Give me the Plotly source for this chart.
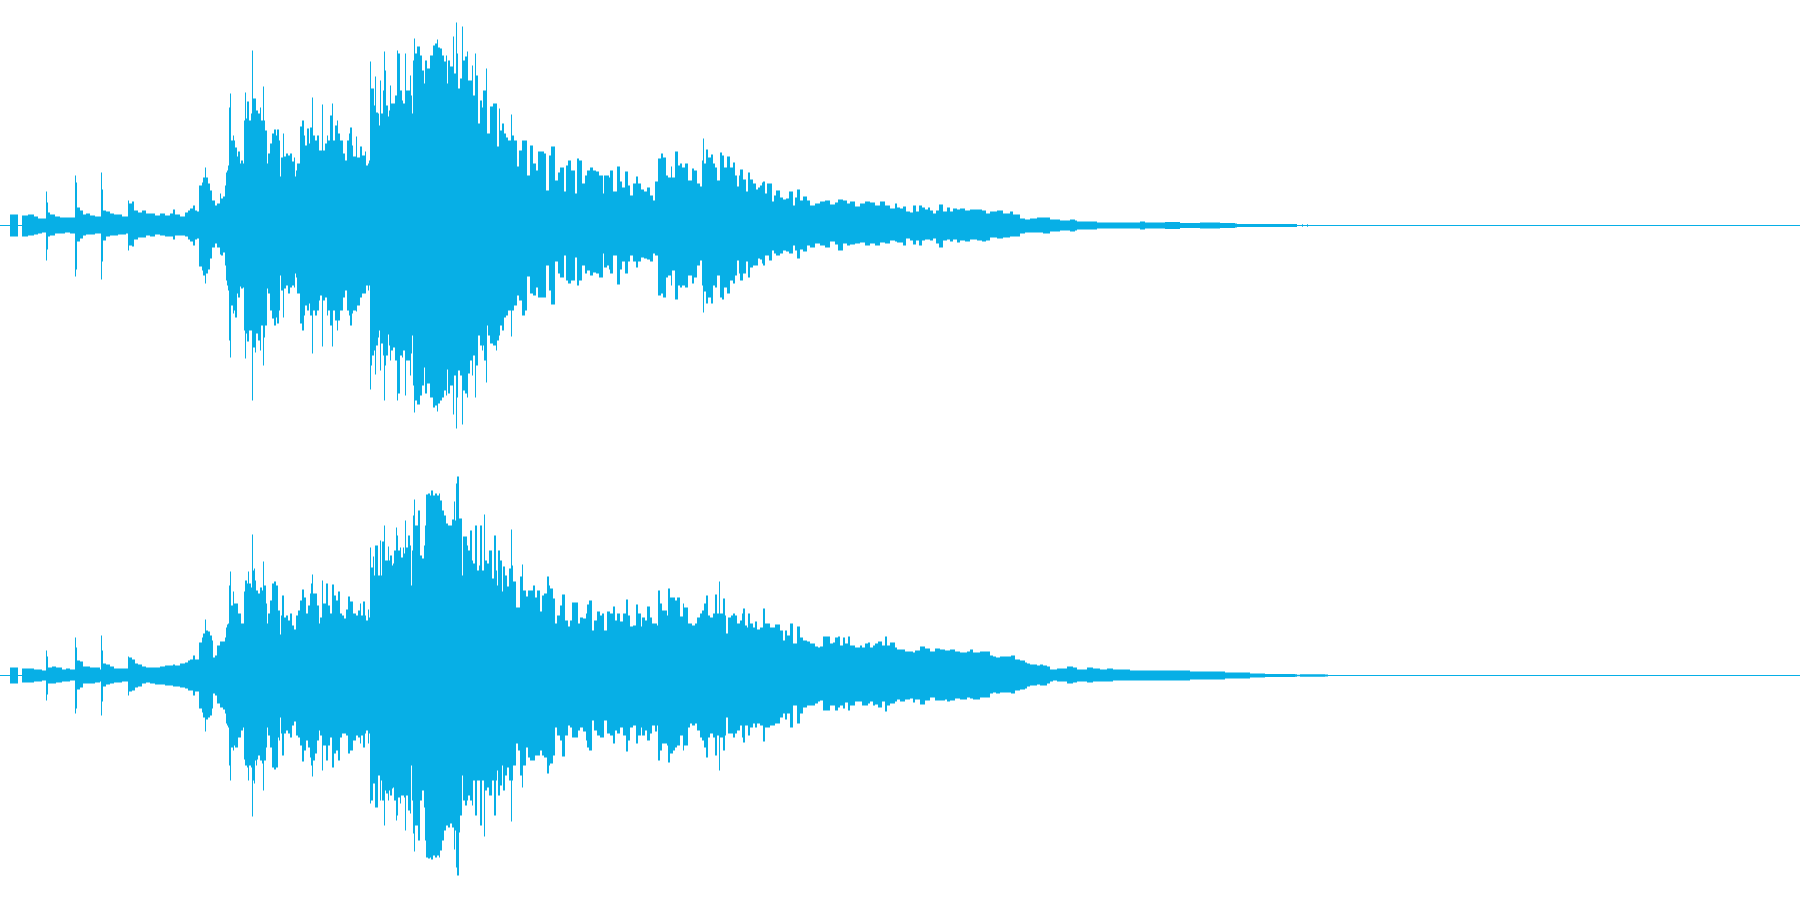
import numpy as np
import plotly.graph_objects as go
from plotly.subplots import make_subplots

COLOR = "#07AFE6"

ch1_t = [
0,10,18,22,28,34,38,42,46,47, 48,50,55,60,65,70,75,76,77,80, 83,86,90,95,100,101,102,103,106,110,
114,118,122,126,128,129,132,134,138,142, 146,150,155,160,165,170,173,175,180,185,
188,190,193,195,197,199,202,203,205,206, 208,210,212,215,217,220,221,223,225,226,
227,228,229,230,231,233,234,235,237,238, 240,241,243,244,245,246,247,249,251,252,
253,255,256,258,260,261,263,264,265,267, 268,270,272,274,276,277,279,280,281,283,
284,286,288,290,292,294,295,296,297,300, 302,304,305,307,309,310,312,313,315,317,
319,320,322,323,325,327,328,330,332,333, 335,337,338,340,343,345,347,349,350,352,
353,356,357,360,362,365,366,368,369,370, 371,372,374,375,376,378,379,380,381,383,
384,385,386,388,389,390,391,393,395,397, 398,400,402,403,405,406,408,410,411,412,
413,414,415,417,420,422,424,425,427,430, 433,435,437,438,440,442,444,446,447,448,
450,453,454,456,457,458,460,462,463,465, 467,468,470,472,473,475,476,478,480,482,
483,484,486,487,488,490,493,496,497,499, 500,502,504,506,508,511,512,514,517,519,
522,525,527,530,533,536,538,544,546,549, 551,555,558,560,564,566,568,571,575,577,
579,582,585,587,590,593,596,599,603,604, 607,609,610,613,617,620,622,625,628,630,
633,636,638,641,644,647,650,653,655,658, 661,663,666,668,671,672,675,678,680,682,
685,688,692,694,697,700,702,703,704,706, 708,711,713,715,717,720,722,724,727,730,
733,735,737,739,740,743,746,748,750,753, 756,758,760,762,763,765,767,769,772,774,
776,780,783,786,789,793,795,797,800,803, 807,810,815,820,825,830,835,838,843,847,
850,855,860,865,870,875,880,885,890,895, 897,900,903,906,910,913,916,919,922,925,
928,930,933,936,939,943,947,950,953,957, 960,965,970,977,982,986,990,997,1003,1010,
1013,1020,1025,1030,1037,1043,1050,1060,1070,1075, 1077,1087,1097,1110,1125,1140,1145,1165,1180,1200,
1220,1235,1237,1240,1250,1270,1297,1302,1303,1307, 1308,1800]
ch1_up = [
0,11,0,10,11,9,7,7,34,23, 13,11,9,8,8,8,50,43,18,15, 11,12,10,9,9,53,36,15,14,12,
11,11,9,9,25,22,24,15,13,15, 12,12,10,12,10,12,16,11,9,13,
15,17,20,15,14,40,43,48,58,48, 42,35,25,20,22,32,27,29,40,53,
55,60,118,132,85,90,85,78,69,74, 62,65,62,105,133,107,124,105,112,175,
127,127,115,112,118,105,139,105,95,62, 72,82,92,96,90,96,85,49,68,92,
69,72,70,72,64,68,49,55,62,99, 105,90,80,97,82,98,128,90,85,90,
75,75,121,75,82,90,85,110,122,85, 100,105,92,85,72,65,85,92,98,80,
69,89,68,79,70,74,60,62,65,164, 137,137,120,149,113,112,100,145,112,135,
174,155,120,109,115,140,122,122,130,175, 172,135,125,122,172,135,135,150,130,112,
165,187,172,179,170,155,142,165,157,170, 180,182,186,178,177,170,164,170,142,165,
159,189,152,203,172,137,147,199,165,169, 174,145,145,160,130,172,150,102,125,118,
135,135,157,92,92,119,122,122,79,117, 95,102,92,88,85,111,90,85,59,75,
85,85,50,80,62,55,74,72,35,70, 79,45,53,58,34,60,65,55,32,67,
65,42,50,55,58,55,54,50,32,50, 50,48,55,34,59,44,38,54,40,30,
42,49,42,36,34,38,30,25,44,67, 72,68,50,48,59,48,74,60,62,58,
62,45,57,55,42,39,65,87,62,76, 68,71,62,58,45,73,70,58,69,58,
63,50,39,50,56,46,34,53,46,42, 36,38,40,43,44,32,42,42,24,30,
35,28,26,27,34,20,28,36,25,29, 25,20,22,24,25,21,23,26,25,22,
24,19,22,24,23,20,24,20,17,22, 18,17,19,14,13,20,14,20,18,16,
18,15,12,15,21,14,18,14,17,16, 17,15,16,16,15,12,14,15,12,14,
11,7,6,7,8,8,6,5,6,5, 4,4,3,3,3,4,3,3.5,2.5,3,
2.5,2,1.6,1.6,1.6,1.6,0,1.3,0,1.3, 0,0]
ch1_down = [
0,11,0,11,10,9,8,7,35,24, 11,10,8,8,7,8,51,44,16,13, 10,9,9,8,8,54,36,15,11,10,
10,9,9,8,25,20,21,14,12,12, 10,11,9,10,11,11,14,10,10,11,
14,16,20,14,13,41,45,50,58,48, 44,33,22,18,22,29,30,27,40,55,
60,65,115,132,80,88,85,92,68,72, 61,63,62,105,133,108,116,105,105,175,
122,127,108,115,125,100,140,112,100,63, 68,85,93,100,92,98,85,50,65,92,
63,60,68,62,60,62,48,52,68,98, 105,90,80,85,78,90,128,85,90,85,
75,70,121,75,72,90,85,100,121,85, 95,105,95,85,72,65,85,90,100,88,
85,86,80,72,68,68,60,65,60,164, 140,130,125,149,120,112,105,145,118,130,
175,140,130,109,120,135,125,122,135,175, 168,130,132,125,170,135,135,150,128,110,
160,187,175,179,170,160,142,168,158,172, 182,180,186,178,175,172,165,170,144,168,
160,189,150,203,172,145,150,199,165,168, 172,148,135,150,130,172,140,110,120,125,
120,135,157,100,110,118,120,125,115,110, 100,105,92,90,85,111,85,80,70,75,
90,85,51,68,70,62,72,72,40,65, 79,36,48,52,30,55,58,55,32,60,
55,40,48,45,50,47,48,52,28,42, 40,44,48,30,59,44,36,48,36,30,
36,42,36,32,33,34,36,28,30,70, 68,72,52,50,60,45,74,60,62,60,
62,50,58,52,40,35,60,87,66,78, 72,78,60,62,50,72,74,62,68,55,
58,50,35,48,55,48,36,52,42,40, 40,33,34,38,40,30,30,35,25,28,
30,28,25,26,28,20,25,33,24,26, 20,22,18,20,22,16,19,25,18,20,
19,18,17,20,18,20,17,18,15,16, 17,17,20,13,15,19,15,20,15,14,
14,15,13,18,22,15,14,16,14,17, 15,16,14,15,16,15,12,13,12,11,
11,8,7,7,7,8,6,5,6,5, 4,4,3,3,3,4,3,3.5,2.5,3,
2.5,2,1.6,1.6,1.6,1.6,0,1.3,0,1.3, 0,0]

ch2_t = [
0,10,18,22,28,34,38,42,46,47, 48,52,56,62,66,70,75,76,77,80, 83,86,90,95,100,101,102,103,106,110,
114,118,122,126,128,129,132,135,138,142, 146,150,155,160,165,170,173,175,180,185,
188,190,193,195,197,199,202,203,205,206, 208,210,212,213,215,217,220,223,225,226,
227,228,229,230,231,233,234,235,237,238, 240,241,243,244,245,247,248,249,251,252,
253,254,255,256,257,258,260,262,263,264, 265,266,267,268,270,272,274,276,278,279,
280,281,282,284,286,288,290,292,294,296, 298,300,302,304,306,308,310,311,312,313,
315,317,319,320,322,323,326,328,330,332, 334,336,338,340,342,344,346,348,350,353,
356,358,360,361,363,365,366,368,369,370, 371,373,374,375,378,380,381,382,384,385,
386,388,389,390,392,393,394,396,397,398, 400,401,403,404,405,406,408,410,411,412,
413,414,415,418,420,422,424,425,426,428, 430,431,433,435,437,439,440,442,444,446,
447,448,450,452,454,455,456,457,459,460, 462,463,465,467,468,470,472,473,475,477,
479,480,482,484,485,487,489,492,494,496, 497,498,500,502,503,505,507,509,511,512,
513,516,518,520,522,523,526,528,530,533, 535,537,540,542,544,547,549,550,553,555,
557,560,562,565,568,570,572,575,578,580, 583,586,587,589,592,594,597,600,602,604,
607,610,613,615,617,620,623,626,628,630, 633,636,638,641,642,645,647,650,652,655,
657,658,660,662,667,668,670,673,675,677, 680,683,684,688,690,692,695,697,700,702,
704,706,708,710,713,715,717,719,720,723, 725,726,728,731,733,735,737,740,742,743,
745,747,748,750,753,755,757,760,763,765, 770,775,780,783,785,787,790,793,797,800,
803,807,810,815,818,820,823,830,833,835, 838,840,843,845,848,850,855,860,862,865,
868,870,873,875,878,882,885,887,890,895, 897,900,905,910,913,915,920,925,930,935,
940,945,947,950,955,960,967,970,973,980, 987,990,993,996,1000,1007,1011,1015,1020,1025,
1027,1030,1033,1037,1040,1043,1047,1050,1053,1057, 1060,1067,1073,1077,1080,1087,1093,1100,1107,1113,
1120,1130,1140,1150,1160,1170,1180,1190,1200,1215, 1225,1240,1250,1265,1285,1295,1297,1300,1325,1328, 1800]
ch2_up = [
0,8,0,7,7,6,6,5,25,19, 8,9,8,6,7,6,38,28,15,14, 9,9,8,8,6,40,25,12,11,9,
7,7,7,7,19,18,16,12,11,9, 8,8,8,9,10,10,11,10,12,13,
15,16,20,16,16,33,38,42,56,45, 44,40,35,18,20,30,34,34,38,48,
51,52,90,104,70,84,72,72,72,62, 62,52,52,84,95,92,104,92,88,141,
105,107,95,85,85,82,88,85,114,90, 90,72,52,62,75,92,94,90,65,65,
41,60,80,58,60,55,62,50,46,60, 65,75,86,78,62,70,82,92,101,82,
82,70,52,58,95,72,92,70,62,91, 80,75,84,62,60,57,66,79,74,62,
60,65,72,60,74,60,55,66,58,128, 108,119,100,130,100,135,100,134,150,115,
115,129,115,120,110,112,125,148,140,125, 128,118,128,122,155,128,140,130,90,125,
160,176,150,165,120,117,130,150,181,182, 180,185,180,182,180,182,175,165,160,152,
152,150,150,156,174,155,192,199,157,157, 100,139,139,130,125,145,115,112,150,105,
110,150,105,161,115,112,125,97,140,105, 90,125,115,84,109,100,89,107,146,110,
94,68,68,99,111,85,79,85,85,90, 78,85,64,80,82,99,90,87,77,52,
60,70,81,55,49,55,73,73,52,58, 57,62,71,75,45,55,64,60,62,45,
64,62,69,55,62,54,62,76,60,49, 50,71,62,49,58,55,69,58,52,52,
50,85,72,65,60,87,78,78,75,78, 59,72,68,52,52,50,52,58,62,65,
72,80,60,58,62,81,62,94,62,77, 60,42,58,60,62,60,52,55,62,67,
50,48,62,52,48,54,46,48,67,52, 48,51,45,35,45,40,52,32,49,38,
35,34,32,29,28,29,39,32,33,38, 39,30,38,32,39,30,28,30,28,32,
33,28,30,32,34,30,39,30,33,28, 26,26,24,24,23,25,29,27,24,27,
26,25,25,26,24,23,24,26,23,24, 24,20,19,18,19,19,20,16,15,13,
12,11,11,10,11,10,9,6,6,7, 7,9,8,6,6,8,7,6,7,6,
6,5,5,5,5,5,5,4,4,4, 3,3,2,1.4,1.4,1.2,0.8,1.2,1,0, 0]
ch2_down = [
0,8,0,7,7,6,6,5,25,19, 8,8,7,6,6,5,38,33,14,12, 8,8,8,7,6,40,26,11,9,8,
7,7,6,6,20,16,15,12,11,8, 7,8,9,9,10,10,11,11,12,13,
15,15,20,16,16,33,37,42,56,44, 42,40,33,18,20,28,32,34,38,48,
50,52,90,105,72,75,70,72,72,62, 62,55,52,84,90,92,105,90,92,141,
105,108,85,90,84,80,85,88,115,85, 85,72,52,60,72,92,94,92,62,65,
42,58,80,58,55,58,62,50,46,60, 62,70,86,75,65,72,82,90,101,85,
78,65,55,60,95,70,85,70,62,92, 78,75,85,62,58,58,60,78,75,65,
60,62,68,60,72,58,55,68,58,128, 125,108,108,132,100,125,105,125,150,115,
118,125,115,120,113,112,125,145,140,122, 128,120,120,122,155,120,135,138,90,125,
158,176,150,165,125,115,132,165,182,183, 182,184,180,182,180,182,175,165,155,150,
150,152,148,152,174,155,192,200,157,140, 100,125,130,125,120,125,130,105,140,105,
105,150,105,161,115,112,120,105,140,105, 95,120,110,90,115,100,92,105,146,105,
90,68,75,100,112,90,72,82,85,85, 80,80,75,80,82,98,90,88,80,52,
60,65,81,60,50,52,62,62,55,52, 56,65,72,75,45,55,60,62,62,45,
58,60,68,55,58,52,60,76,65,52, 50,68,60,52,60,55,65,58,50,56,
50,85,75,68,70,87,78,75,72,70, 60,75,70,52,48,50,48,55,62,65,
72,82,62,58,62,80,60,95,62,75, 60,42,58,58,62,58,55,50,62,67,
50,50,60,52,48,52,48,50,66,52, 50,48,42,38,44,38,52,30,48,38,
32,30,30,28,26,25,35,30,30,35, 32,30,33,27,35,30,26,26,30,30,
28,26,30,29,32,26,36,30,28,26, 24,26,24,23,27,24,29,25,22,25,
25,24,26,25,23,24,22,23,24,22, 22,18,17,18,17,17,18,15,14,13,
11,10,10,9,10,10,8,6,5,6, 6,8,7,6,6,7,6,6,6,5,
5,5,5,5,5,5,5,4,4,4, 3,3,2,1.4,1.4,1.2,0.8,1.2,1,0, 0]

assert len(ch1_t) == len(ch1_up) == len(ch1_down), (len(ch1_t), len(ch1_up), len(ch1_down))
assert len(ch2_t) == len(ch2_up) == len(ch2_down), (len(ch2_t), len(ch2_up), len(ch2_down))

fig = make_subplots(rows=2, cols=1, vertical_spacing=0, shared_xaxes=False)
for row, (t, up, dn) in enumerate([(ch1_t, ch1_up, ch1_down), (ch2_t, ch2_up, ch2_down)], start=1):
    for vals in (np.array(up, float), -np.array(dn, float)):
        fig.add_trace(go.Scatter(
            x=t, y=vals, mode="lines", line=dict(shape="hv", width=0, color=COLOR),
            fill="tozeroy", fillcolor=COLOR, hoverinfo="skip", showlegend=False), row=row, col=1)
    fig.add_trace(go.Scatter(
        x=[t[0], t[-1]], y=[0, 0], mode="lines", line=dict(width=1, color=COLOR),
        hoverinfo="skip", showlegend=False), row=row, col=1)
    fig.update_xaxes(range=[0, 1800], visible=False, row=row, col=1)
    fig.update_yaxes(range=[-224.5, 225.5], visible=False, row=row, col=1)

fig.update_layout(width=1800, height=900, margin=dict(l=0, r=0, t=0, b=0),
                  paper_bgcolor="white", plot_bgcolor="white")
fig.write_html("out.html", config={"displayModeBar": False},
               post_script="document.body.style.margin='0';document.documentElement.style.overflow='hidden';")
